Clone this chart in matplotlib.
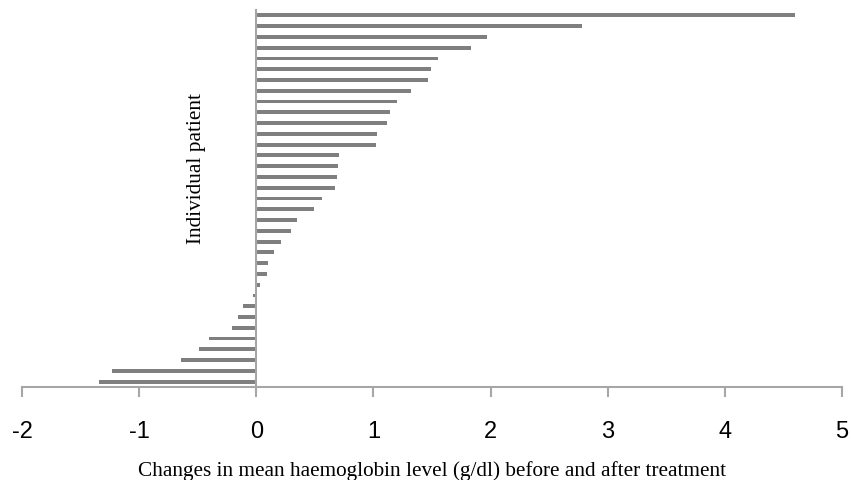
import matplotlib.pyplot as plt
import numpy as np

# change in mean haemoglobin per patient (g/dl), sorted ascending
changes = [-1.34, -1.23, -0.64, -0.49, -0.40, -0.21, -0.16, -0.11, -0.03,
           0.03, 0.09, 0.10, 0.15, 0.21, 0.30, 0.35, 0.49, 0.56,
           0.67, 0.69, 0.70, 0.71, 1.02, 1.03, 1.12, 1.14, 1.20, 1.32,
           1.47, 1.49, 1.55, 1.83, 1.97, 2.78, 4.60]
patients = np.arange(1, len(changes) + 1)
x_ticks = [-2, -1, 0, 1, 2, 3, 4, 5]

fig = plt.figure(figsize=(8.51, 4.81), dpi=100)
ax = fig.add_axes([22 / 851, 1 - 388 / 481, 820 / 851, 377 / 481])

ax.barh(patients, changes, height=0.36, color='#7f7f7f')

ax.set_xlim(-2, 5)
ax.set_ylim(0.5, len(changes) + 0.5)

axis_col = '#a6a6a6'
for s in ['top', 'right']:
    ax.spines[s].set_visible(False)
ax.spines['left'].set_position(('data', 0))
ax.spines['left'].set_color(axis_col)
ax.spines['left'].set_linewidth(1.5)
ax.spines['bottom'].set_color(axis_col)
ax.spines['bottom'].set_linewidth(1.5)

ax.set_yticks([])
ax.set_xticks(x_ticks)
ax.set_xticklabels([str(t) for t in x_ticks], fontfamily='Liberation Sans', fontsize=17)
ax.tick_params(axis='x', direction='out', length=7, width=1.5, color=axis_col, pad=17)

fig.text(432 / 851, 1 - 471 / 481, 'Changes in mean haemoglobin level (g/dl) before and after treatment',
         ha='center', va='center', fontfamily='Liberation Serif', fontsize=15.3)
fig.text(197 / 851, 1 - 169 / 481, 'Individual patient', rotation=90,
         ha='center', va='center', fontfamily='Liberation Serif', fontsize=15.3)

fig.savefig('out.png', dpi=100)
